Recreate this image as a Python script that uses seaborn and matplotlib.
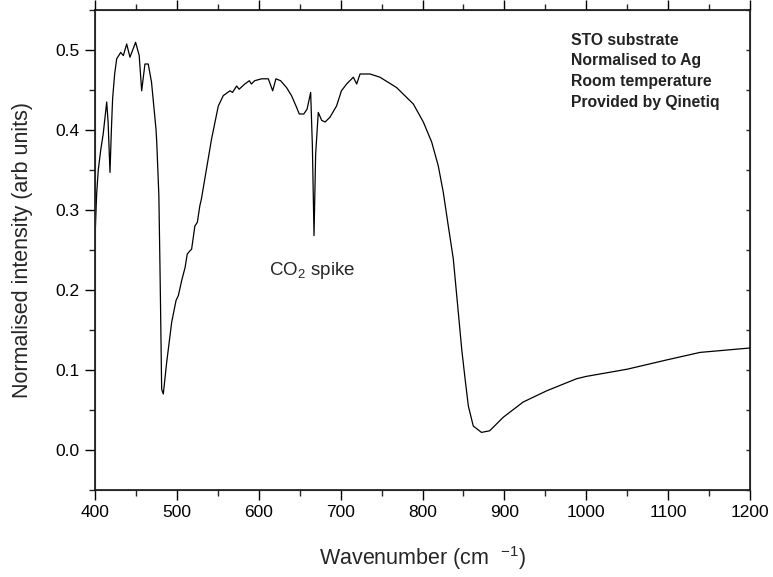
import matplotlib
matplotlib.use("Agg")
import matplotlib.pyplot as plt
from matplotlib.ticker import MultipleLocator
import seaborn as sns
import pandas as pd

wavenumber = [400, 402, 404, 407, 410, 414.3, 416, 418.3, 420, 421.5, 424, 426.5,
              431.4, 434.6, 438.7, 442.7, 449.6, 454, 457, 461, 465, 469, 474.5,
              475.4, 478, 479.4, 480.2, 481.4, 483.4, 487.6, 493.7, 499, 501.8,
              505.9, 510, 512.7, 516, 518, 522, 525, 528, 530, 542.4, 550.6, 556.7,
              564.9, 568, 573, 576, 583, 588.5, 591, 595, 603.5, 611.7, 617, 621,
              626.7, 634, 640, 645.5, 649.5, 655, 659, 663.4, 665.5, 667.5, 669.5,
              672.7, 676.9, 681, 687, 695, 701, 707.3, 715.5, 719.6, 723.7, 735.9,
              748, 768.4, 788.8, 801, 811.2, 819.3, 825.4, 831.5, 837.6, 843, 848,
              852, 856, 862, 872, 882, 898.7, 923, 951.7, 988, 1000, 1050, 1100,
              1139, 1200]
intensity = [0.265, 0.32, 0.35, 0.375, 0.395, 0.435, 0.41, 0.347, 0.40, 0.439, 0.47,
             0.489, 0.497, 0.493, 0.5075, 0.491, 0.5096, 0.493, 0.449, 0.4825,
             0.4825, 0.46, 0.401, 0.385, 0.318, 0.226, 0.168, 0.076, 0.07, 0.11,
             0.16, 0.187, 0.193, 0.212, 0.228, 0.245, 0.249, 0.251, 0.28, 0.2846,
             0.305, 0.314, 0.389, 0.43, 0.443, 0.449, 0.447, 0.455, 0.451, 0.4575,
             0.4616, 0.4575, 0.4616, 0.464, 0.464, 0.449, 0.464, 0.4616, 0.453,
             0.443, 0.43, 0.42, 0.42, 0.426, 0.447, 0.38, 0.268, 0.37, 0.422, 0.412,
             0.41, 0.416, 0.43, 0.449, 0.4575, 0.466, 0.4575, 0.47, 0.47, 0.466,
             0.453, 0.4325, 0.41, 0.385, 0.355, 0.322, 0.28, 0.239, 0.18, 0.125,
             0.089, 0.055, 0.030, 0.022, 0.024, 0.041, 0.06, 0.074, 0.089, 0.092,
             0.101, 0.113, 0.122, 0.1275]

x_ticks = [400, 500, 600, 700, 800, 900, 1000, 1100, 1200]
y_ticks = [0.0, 0.1, 0.2, 0.3, 0.4, 0.5]
notes = ["STO substrate", "Normalised to Ag", "Room temperature", "Provided by Qinetiq"]

sns.set_style("ticks")
plt.rcParams['font.family'] = ['Liberation Sans', 'DejaVu Sans']
plt.rcParams['mathtext.default'] = 'regular'

df = pd.DataFrame({"wavenumber": wavenumber, "intensity": intensity})

fig = plt.figure(figsize=(7.73, 5.77), dpi=100)
ax = fig.add_axes([95/773, 1-490/577, 655/773, 480/577])
sns.lineplot(data=df, x="wavenumber", y="intensity", color="black", lw=0.9,
             sort=False, estimator=None, ax=ax)

ax.set_xlim(400, 1200)
ax.set_ylim(-0.05, 0.55)
ax.set_xticks(x_ticks)
ax.set_yticks(y_ticks)
ax.set_xticklabels([str(v) for v in x_ticks])
ax.set_yticklabels([f"{v:.1f}" for v in y_ticks])
ax.xaxis.set_minor_locator(MultipleLocator(50))
ax.yaxis.set_minor_locator(MultipleLocator(0.05))
for s in ax.spines.values():
    s.set_visible(True)
    s.set_linewidth(1.1)
    s.set_color("black")
ax.tick_params(axis='both', which='major', direction='out', length=7, width=1.0,
               labelsize=12.5, colors='black', pad=4)
ax.tick_params(axis='both', which='minor', direction='out', length=4, width=1.0)
ax.tick_params(axis='x', which='both', top=True)
ax.tick_params(axis='y', which='both', right=False)

ax2 = ax.twinx()
ax2.set_ylim(-0.05, 0.55)
ax2.set_yticks(y_ticks)
ax2.yaxis.set_minor_locator(MultipleLocator(0.05))
ax2.tick_params(axis='y', which='both', direction='in', length=3, width=1.0,
                labelright=False)

ax.set_xlabel("Wavenumber (cm  $^{-1}$)", fontsize=15.5, labelpad=17)
ax.set_ylabel("Normalised intensity (arb units)", fontsize=15.5, labelpad=16)

ax.text(665, 0.224, "CO$_2$ spike", fontsize=13.5, ha='center', va='center')
for i, t in enumerate(notes):
    ax.text(981, 0.5125 - i*0.0262, t, fontsize=11.3, fontweight='bold', ha='left',
            va='center', color='#222222')

fig.savefig("out.png", dpi=100)
